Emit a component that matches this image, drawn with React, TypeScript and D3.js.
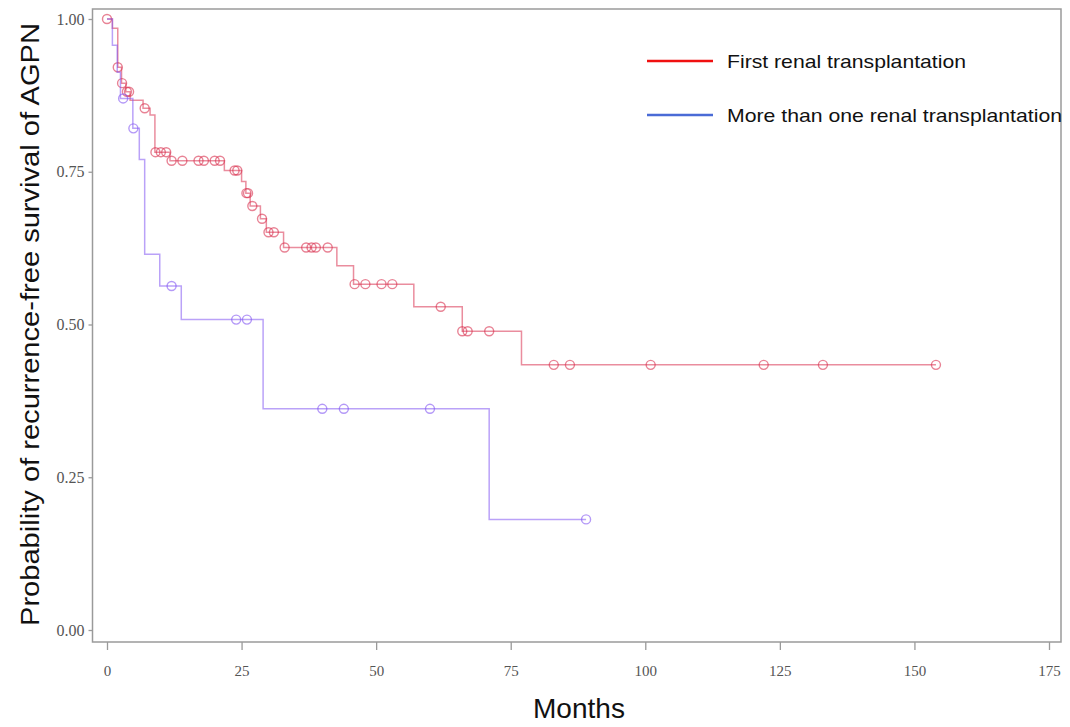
import { useEffect, useRef } from "react";
import * as d3 from "d3";

// Kaplan-Meier steps (months, survival after the step)
const firstTimes = [0, 1, 2, 2.7, 3.5, 4.3, 6.7, 8, 8.9, 11.7, 21.8, 25, 25.8, 26.6, 28.5, 29.6, 32.8, 42.7, 45.8, 57, 66, 77];
const firstSurv = [1, 0.985, 0.921, 0.895, 0.881, 0.867, 0.854, 0.843, 0.782, 0.768, 0.752, 0.734, 0.715, 0.694, 0.673, 0.651, 0.626, 0.596, 0.566, 0.529, 0.489, 0.434];
const firstCensored = [0, 2, 2.8, 3.7, 4.1, 7, 9, 10, 11, 12, 14, 17, 18, 20, 21, 23.7, 24.2, 25.9, 26.2, 27, 28.8, 30, 31, 33, 37, 38, 38.8, 41, 46, 48, 51, 53, 62, 66, 67, 71, 83, 86, 101, 122, 133, 154];

const moreTimes = [0, 1, 1.9, 2.5, 4.8, 6, 7, 9.8, 13.8, 29, 71];
const moreSurv = [1, 0.957, 0.913, 0.87, 0.821, 0.77, 0.615, 0.563, 0.508, 0.362, 0.181];
const moreCensored = [3, 4.9, 12, 24, 26, 40, 44, 60, 89];

const xTicks = [0, 25, 50, 75, 100, 125, 150, 175];
const yTicks = [0, 0.25, 0.5, 0.75, 1];

const legendLabels = ["First renal transplantation", "More than one renal transplantation"];

const App = () => {
  const ref = useRef<SVGSVGElement>(null);

  useEffect(() => {
    const width = 1070;
    const height = 727;
    const svg = d3.select(ref.current);
    svg.selectAll("*").remove();

    const x = d3.scaleLinear([0, 175], [107, 1049]);
    const y = d3.scaleLinear([0, 1], [630, 19]);

    // plot frame
    svg.append("rect")
      .attr("x", 92.5).attr("y", 9)
      .attr("width", 1061 - 92.5).attr("height", 642 - 9)
      .attr("fill", "none").attr("stroke", "#9a9a9a").attr("stroke-width", 1.5);

    // x axis
    svg.append("g")
      .attr("transform", "translate(0,642)")
      .call(d3.axisBottom(x).tickValues(xTicks).tickSize(8).tickPadding(15).tickSizeOuter(0))
      .call((g) => g.select(".domain").remove())
      .call((g) => g.selectAll(".tick line").attr("stroke", "#9a9a9a").attr("stroke-width", 1.3))
      .call((g) => g.selectAll(".tick text")
        .attr("fill", "#555").attr("font-family", "'Liberation Serif', serif").attr("font-size", 15));

    // y axis
    svg.append("g")
      .attr("transform", "translate(92.5,0)")
      .call(d3.axisLeft(y).tickValues(yTicks).tickFormat(d3.format(".2f")).tickSize(4).tickPadding(4))
      .call((g) => g.select(".domain").remove())
      .call((g) => g.selectAll(".tick line").attr("stroke", "#9a9a9a").attr("stroke-width", 1.3))
      .call((g) => g.selectAll(".tick text")
        .attr("fill", "#555").attr("font-family", "'Liberation Serif', serif").attr("font-size", 16));

    // axis titles
    svg.append("text")
      .attr("transform", `translate(30,${y(0.5)}) rotate(-90)`)
      .attr("text-anchor", "middle")
      .attr("dy", "0.35em")
      .attr("font-family", "'Liberation Sans', Arial, sans-serif")
      .attr("font-size", 26)
      .attr("textLength", 603)
      .attr("lengthAdjust", "spacingAndGlyphs")
      .attr("fill", "#111")
      .text("Probability of recurrence-free survival of AGPN");

    svg.append("text")
      .attr("x", 579).attr("y", 718)
      .attr("text-anchor", "middle")
      .attr("font-family", "'Liberation Sans', Arial, sans-serif")
      .attr("font-size", 28)
      .attr("textLength", 92)
      .attr("lengthAdjust", "spacingAndGlyphs")
      .attr("fill", "#111")
      .text("Months");

    const line = d3.line<[number, number]>()
      .curve(d3.curveStepAfter)
      .x((d) => x(d[0]))
      .y((d) => y(d[1]));

    const series = [
      { times: firstTimes, surv: firstSurv, censored: firstCensored, color: "#d8304f" },
      { times: moreTimes, surv: moreSurv, censored: moreCensored, color: "#8255f2" },
    ];

    series.forEach((s) => {
      const survAt = (t: number) => {
        const i = d3.bisectRight(s.times, t) - 1;
        return s.surv[Math.max(0, i)];
      };
      const last = d3.max(s.censored) as number;
      const pts: [number, number][] = s.times.map((t, i) => [t, s.surv[i]]);
      pts.push([last, survAt(last)]);

      svg.append("path")
        .attr("d", line(pts))
        .attr("fill", "none")
        .attr("stroke", s.color)
        .attr("stroke-opacity", 0.55)
        .attr("stroke-width", 1.5);

      svg.append("g")
        .selectAll("circle")
        .data(s.censored)
        .join("circle")
        .attr("cx", (d) => x(d))
        .attr("cy", (d) => y(survAt(d)))
        .attr("r", 4.5)
        .attr("fill", "none")
        .attr("stroke", s.color)
        .attr("stroke-opacity", 0.6)
        .attr("stroke-width", 1.4);
    });

    // legend
    const legendColors = ["#f01010", "#4a6bd6"];
    const legendWidths = [239, 335];
    const legend = svg.append("g");
    legendLabels.forEach((label, i) => {
      const ly = 61 + i * 54;
      legend.append("line")
        .attr("x1", 647).attr("x2", 713).attr("y1", ly).attr("y2", ly)
        .attr("stroke", legendColors[i]).attr("stroke-width", 2.5);
      legend.append("text")
        .attr("x", 727).attr("y", ly + 7)
        .attr("font-family", "'Liberation Sans', Arial, sans-serif")
        .attr("font-size", 19)
        .attr("textLength", legendWidths[i])
        .attr("lengthAdjust", "spacingAndGlyphs")
        .attr("fill", "#111")
        .text(label);
    });

    svg.attr("width", width).attr("height", height);
  }, []);

  return (
    <svg
      ref={ref}
      width={1070}
      height={727}
      style={{ position: "absolute", left: 0, top: 0, background: "#fff" }}
    />
  );
};

export default App;
